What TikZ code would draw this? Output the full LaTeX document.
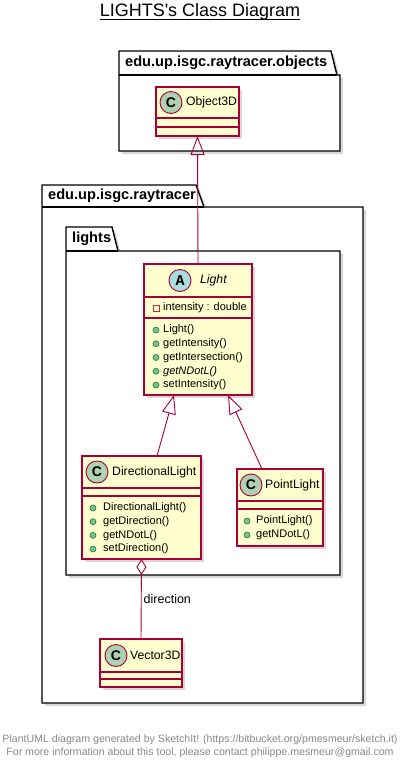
\documentclass[tikz,border=0pt]{standalone}
\usepackage{fontspec}
\setmainfont{Liberation Sans}
\newfontfamily\abstractglyph{Liberation Mono}
\usetikzlibrary{arrows.meta,calc,shadows}
\definecolor{clsfill}{HTML}{FEFECE}
\definecolor{clsborder}{HTML}{A80036}
\definecolor{circC}{HTML}{ADD1B2}
\definecolor{circA}{HTML}{A9DCDF}
\definecolor{pubfill}{HTML}{84BE84}
\definecolor{publine}{HTML}{038048}
\definecolor{privline}{HTML}{C82930}
\definecolor{footgray}{HTML}{888888}

\begin{document}
\begin{tikzpicture}[x=1pt, y=-1pt,
    cls/.style={draw=clsborder, fill=clsfill, line width=1.1pt, inner sep=0, outer sep=0, anchor=north west,
      drop shadow={shadow xshift=3pt, shadow yshift=-3pt, opacity=.3}},
    pkg/.style={draw=black, fill=white, line width=1.4pt,
      drop shadow={shadow xshift=3pt, shadow yshift=-3pt, opacity=.3}},
    sep/.style={draw=clsborder, line width=1.1pt},
    badge/.style={circle, draw=clsborder, line width=.9pt, minimum size=22pt, inner sep=0,
      font=\bfseries\fontsize{14}{14}\selectfont},
    pub/.style={circle, draw=publine, fill=pubfill, minimum size=6pt, inner sep=0, line width=.6pt},
    priv/.style={rectangle, draw=privline, minimum size=6pt, inner sep=0, line width=.8pt},
    member/.style={anchor=west, inner sep=0, font=\fontsize{11}{13}\selectfont},
    clsname/.style={anchor=west, inner sep=0, font=\fontsize{12.2}{15}\selectfont},
    pkgname/.style={anchor=west, inner sep=0, font=\bfseries\fontsize{14.6}{16}\selectfont},
    inherit/.style={draw=clsborder, line width=.9pt, -{Triangle[open, length=19pt, width=14pt]}},
    aggr/.style={draw=clsborder, line width=.9pt, -{Diamond[open, length=16pt, width=10pt]}},
  ]
    \useasboundingbox (0,0) rectangle (400,764);

    % Cím
    \node[inner sep=0, font=\fontsize{18}{20}\selectfont] (title) at (200,12) {LIGHTS\textquotesingle s Class Diagram};
    \draw[line width=.9pt] ([yshift=-2.5pt]title.base west) -- ([yshift=-2.5pt]title.base east);

    % Csomagok
    \draw[pkg] (119,51) -- (331,51) -- (337,75) -- (340,75) -- (340,151) -- (119,151) -- cycle;
    \draw[line width=1.4pt] (119,75) -- (337,75);
    \node[pkgname] (objects) at (125,63) {edu.up.isgc.raytracer.objects};

    \draw[pkg] (42,185) -- (196,185) -- (204,207) -- (363,207) -- (363,703) -- (42,703) -- cycle;
    \draw[line width=1.4pt] (42,207) -- (204,207);
    \node[pkgname] (raytracer) at (48,196) {edu.up.isgc.raytracer};

    \draw[pkg] (66,227) -- (112,227) -- (118,251) -- (340,251) -- (340,575) -- (66,575) -- cycle;
    \draw[line width=1.4pt] (66,251) -- (118,251);
    \node[pkgname] (lights) at (72,239) {lights};

    % Object3D
    \node[cls, minimum width=83, minimum height=49] (object3d) at (156,87) {};
    \draw[sep] (156,118) -- (239,118) (156,127) -- (239,127);
    \node[badge, fill=circC] (object3d-c) at (171,102.5) {C};
    \node[clsname] (object3d-n) at (186,102.5) {Object3D};

    % Light (absztrakt)
    \node[cls, minimum width=108, minimum height=131] (light) at (144,264) {};
    \draw[sep] (144,297) -- (252,297) (144,318) -- (252,318);
    \node[badge, fill=circA, font=\abstractglyph\bfseries\fontsize{15}{15}\selectfont] (light-a) at (180,280.5) {A};
    \node[clsname, font=\itshape\fontsize{12.2}{15}\selectfont] (light-n) at (200,280.5) {Light};
    \node[priv] (light-i1) at (156,308) {};
    \node[member] (light-f1) at (163,308) {intensity : double};
    \foreach \m [count=\i] in {Light(), getIntensity(), getIntersection(), {\itshape getNDotL()}, setIntensity()} {
      \node[pub] (light-p\i) at (156,{330+13.75*(\i-1)}) {};
      \node[member] (light-m\i) at (163,{330+13.75*(\i-1)}) {\m};
    }

    % DirectionalLight
    \node[cls, minimum width=119, minimum height=103] (dirlight) at (82,456) {};
    \draw[sep] (82,488) -- (201,488) (82,496) -- (201,496);
    \node[badge, fill=circC] (dirlight-c) at (97,472) {C};
    \node[clsname] (dirlight-n) at (112,472) {DirectionalLight};
    \foreach \m [count=\i] in {DirectionalLight(), getDirection(), getNDotL(), setDirection()} {
      \node[pub] (dirlight-p\i) at (93,{508+13.67*(\i-1)}) {};
      \node[member] (dirlight-m\i) at (103,{508+13.67*(\i-1)}) {\m};
    }

    % PointLight
    \node[cls, minimum width=86, minimum height=77] (pointlight) at (237,469) {};
    \draw[sep] (237,501) -- (323,501) (237,509) -- (323,509);
    \node[badge, fill=circC] (pointlight-c) at (251,485) {C};
    \node[clsname] (pointlight-n) at (265,485) {PointLight};
    \foreach \m [count=\i] in {PointLight(), getNDotL()} {
      \node[pub] (pointlight-p\i) at (247,{521+14*(\i-1)}) {};
      \node[member] (pointlight-m\i) at (256,{521+14*(\i-1)}) {\m};
    }

    % Vector3D
    \node[cls, minimum width=82, minimum height=48] (vector3d) at (100,639) {};
    \draw[sep] (100,672) -- (182,672) (100,679) -- (182,679);
    \node[badge, fill=circC] (vector3d-c) at (116,655.5) {C};
    \node[clsname] (vector3d-n) at (130,655.5) {Vector3D};

    % Kapcsolatok
    \draw[inherit] (light.north) -- (object3d.south);
    \draw[inherit] ($(dirlight.north west)+(75,0)$) -- ($(light.south west)+(30,0)$);
    \draw[inherit] ($(pointlight.north west)+(25,0)$) -- ($(light.south west)+(84,0)$);
    \draw[aggr] (vector3d.north) -- node[right, inner sep=2pt, font=\fontsize{12.5}{15}\selectfont] (direction) {direction} (dirlight.south);

    % Lábléc
    \node[inner sep=0, text=footgray, font=\fontsize{10.6}{12}\selectfont] (footer1) at (200,740) {PlantUML diagram generated by SketchIt! (https://bitbucket.org/pmesmeur/sketch.it)};
    \node[inner sep=0, text=footgray, font=\fontsize{10.6}{12}\selectfont] (footer2) at (200,753) {For more information about this tool, please contact philippe.mesmeur@gmail.com};

  \end{tikzpicture}
\end{document}
